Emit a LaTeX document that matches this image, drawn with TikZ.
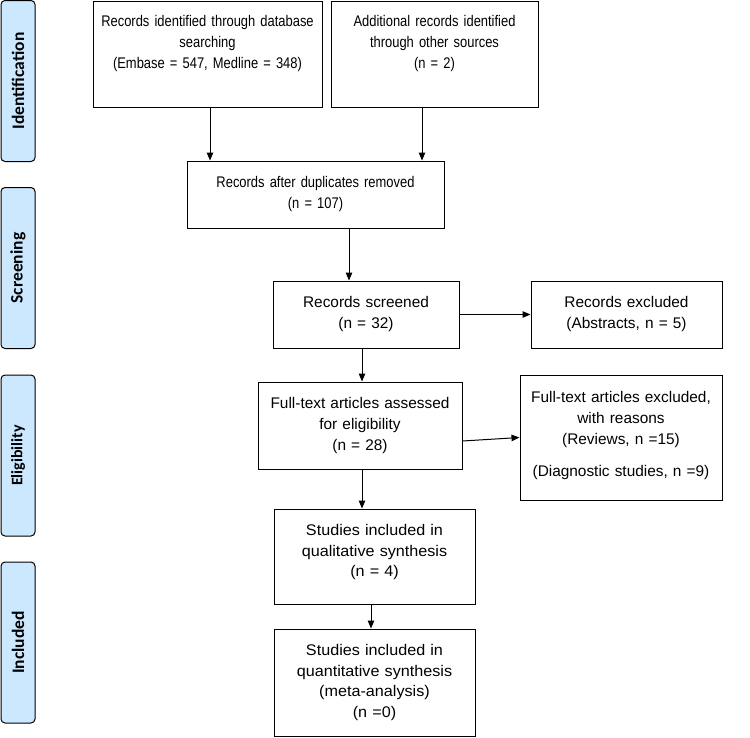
\documentclass[tikz,border=0pt]{standalone}
\usepackage{fontspec}
\usepackage{tikz}
\usetikzlibrary{positioning}
\usetikzlibrary{arrows.meta}
\newfontfamily\narrowfont[FakeStretch = 0.84]{Liberation Sans}
\newfontfamily\boxfont{Liberation Sans}
\newfontfamily\widefont[FakeStretch = 1.05]{Liberation Sans}
\newfontfamily\stagefont{Carlito}
\definecolor{stageblue}{RGB}{204,232,255}

\begin{document}
\begin{tikzpicture}[x = 1pt, y = -1pt, >={Triangle[length = 8pt, width = 6.5pt]},
    box/.style = {draw, line width = 1, align = center, inner sep = 4pt,
        font = \narrowfont\fontsize{15.4}{21}\selectfont},
    midbox/.style = {box, font = \boxfont\fontsize{15.4}{21}\selectfont},
    lowbox/.style = {box, font = \widefont\fontsize{15.4}{20.5}\selectfont},
    stage/.style = {draw, line width = 1, rounded corners = 4pt, fill = stageblue,
        rotate = 90, minimum width = 161pt, minimum height = 34pt,
        font = \stagefont\bfseries\fontsize{17.5}{20}\selectfont}]
    \useasboundingbox (0,0) rectangle (750,737);
    % stages %
    \node[stage] (ident) at (18,81) {Identification};
    \node[stage] (screen) at (18,268) {Screening};
    \node[stage, font = \stagefont\bfseries\fontsize{16}{20}\selectfont] (elig) at (18,455.5) {Eligibility};
    \node[stage] (incl) at (18,642.5) {Included};
    % nodes %
    \node[box, text width = 221pt, minimum height = 106pt, text depth = 66pt] (db) at (207.5,54)
        {Records identified through database\\ searching\\ (Embase = 547, Medline = 348)};
    \node[box, text width = 199pt, minimum height = 106pt, text depth = 66pt] (other) at (434.5,54)
        {Additional records identified\\ through other sources\\ (n = 2)};
    \node[box, text width = 249pt, minimum height = 67pt] (dup) at (315.5,194.5)
        {Records after duplicates removed\\ (n = 107)};
    \node[midbox, text width = 178pt, minimum height = 67pt] (screened) at (366,314.5)
        {Records screened\\ (n = 32)};
    \node[midbox, text width = 183pt, minimum height = 67pt] (excl) at (626.5,314.5)
        {Records excluded\\ (Abstracts, n = 5)};
    \node[midbox, text width = 196pt, minimum height = 87pt] (full) at (360,425.5)
        {Full-text articles assessed\\ for eligibility\\ (n = 28)};
    \node[midbox, text width = 194pt, minimum height = 125pt, text depth = 82pt] (fullexcl) at (621,437.5)
        {Full-text articles excluded,\\ with reasons\\ (Reviews, n =15)\\[11pt] (Diagnostic studies, n =9)};
    \node[lowbox, text width = 193pt, minimum height = 95pt, text depth = 53pt] (qual) at (374.5,556.5)
        {Studies included in\\ qualitative synthesis\\ (n = 4)};
    \node[lowbox, text width = 193pt, minimum height = 107pt] (quant) at (374.5,682.5)
        {Studies included in\\ quantitative synthesis\\ (meta-analysis)\\ (n =0)};
    % edges %
    \draw[->, line width = 1] ([xshift = 2.5pt]db.south) -- ([xshift = 2.5pt]db.south |- dup.north);
    \draw[->, line width = 1] ([xshift = -12.5pt]other.south) -- ([xshift = -12.5pt]other.south |- dup.north);
    \draw[->, line width = 1] ([xshift = -17pt]screened.north |- dup.south) -- ([xshift = -17pt]screened.north);
    \draw[->, line width = 1] (screened.east) -- (excl.west);
    \draw[->, line width = 1] ([xshift = 2pt]full.north |- screened.south) -- ([xshift = 2pt]full.north);
    \draw[->, line width = 1] ([yshift = -15.5pt]full.east) -- (fullexcl.west);
    \draw[->, line width = 1] ([xshift = 2pt]full.south) -- ([xshift = 2pt]full.south |- qual.north);
    \draw[->, line width = 1] ([xshift = -3.5pt]qual.south) -- ([xshift = -3.5pt]qual.south |- quant.north);
\end{tikzpicture}
\end{document}
